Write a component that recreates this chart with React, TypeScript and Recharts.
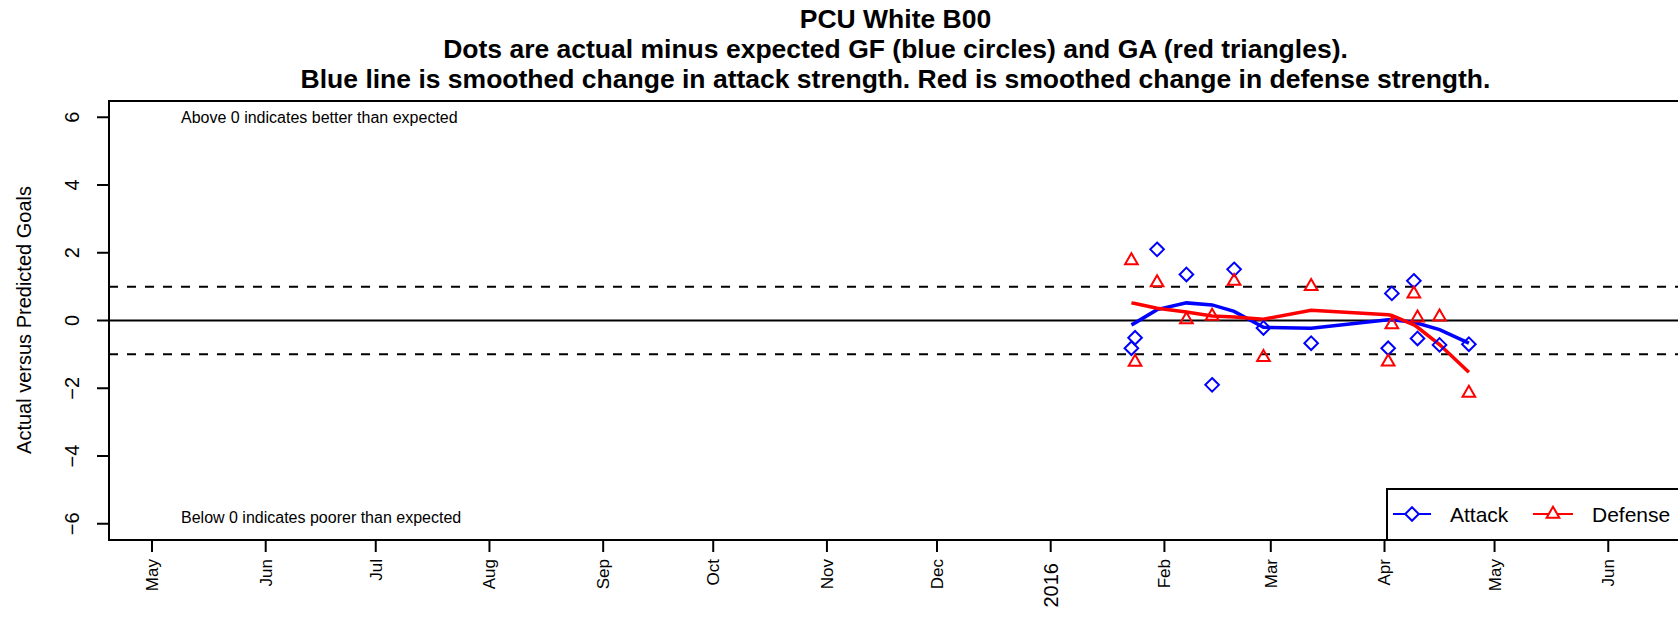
import React from 'react';
import { ComposedChart, XAxis, YAxis, Line, ReferenceLine, ReferenceArea } from 'recharts';

if (typeof document !== 'undefined') document.body.style.margin = '0';

const DAY = 86400000;
const toT = (s: string) => Date.parse(s + 'T00:00:00Z');

// Game dates and values
const gameDates = ['2016-01-23', '2016-01-24', '2016-01-30', '2016-02-07', '2016-02-14', '2016-02-20', '2016-02-28', '2016-03-12', '2016-04-02', '2016-04-03', '2016-04-09', '2016-04-10', '2016-04-16', '2016-04-24'];
const attackDiff = [-0.82, -0.51, 2.1, 1.36, -1.9, 1.51, -0.22, -0.67, -0.82, 0.8, 1.17, -0.53, -0.72, -0.7];
const defenseDiff = [1.77, -1.23, 1.12, 0.03, 0.13, 1.16, -1.09, 1.01, -1.22, -0.12, 0.79, 0.08, 0.11, -2.14];
const attackTrend = [-0.13, -0.07, 0.32, 0.52, 0.46, 0.27, -0.2, -0.23, 0.02, 0.02, -0.05, -0.08, -0.27, -0.67];
const defenseTrend = [0.52, 0.5, 0.36, 0.25, 0.13, 0.1, 0.04, 0.3, 0.17, 0.15, -0.13, -0.2, -0.71, -1.53];

const monthTickDates = ['2015-05-01', '2015-06-01', '2015-07-01', '2015-08-01', '2015-09-01', '2015-10-01', '2015-11-01', '2015-12-01', '2016-01-01', '2016-02-01', '2016-03-01', '2016-04-01', '2016-05-01', '2016-06-01'];
const monthTickLabels = ['May', 'Jun', 'Jul', 'Aug', 'Sep', 'Oct', 'Nov', 'Dec', '2016', 'Feb', 'Mar', 'Apr', 'May', 'Jun'];
const yTicks = [-6, -4, -2, 0, 2, 4, 6];
const yTickLabels = ['\u22126', '\u22124', '\u22122', '0', '2', '4', '6'];

const titleLines = [
  'PCU White B00',
  'Dots are actual minus expected GF (blue circles) and GA (red triangles).',
  'Blue line is smoothed change in attack strength. Red is smoothed change in defense strength.',
];
const yAxisTitle = 'Actual versus Predicted Goals';
const noteAbove = 'Above 0 indicates better than expected';
const noteBelow = 'Below 0 indicates poorer than expected';
const seriesNames = ['Attack', 'Defense'];

const xDomain = [toT('2015-04-19') + 0.28 * DAY, toT('2016-06-21') + 0.1 * DAY];
const yDomain = [-6.48, 6.48];

const rows = gameDates.map((d, i) => ({
  t: toT(d),
  attack: attackDiff[i],
  defense: defenseDiff[i],
  attackTrend: attackTrend[i],
  defenseTrend: defenseTrend[i],
}));
const monthTicks = monthTickDates.map(toT);

const FONT = '"Liberation Sans", Arial, Helvetica, sans-serif';
const BLUE = '#0000ff';
const RED = '#ff0000';

const diamondPath = (cx: number, cy: number, r = 6.8) =>
  `M${cx},${cy - r}L${cx + r},${cy}L${cx},${cy + r}L${cx - r},${cy}Z`;
const trianglePath = (cx: number, cy: number, r = 7.3) =>
  `M${cx},${cy - r}L${cx + 0.866 * r},${cy + r / 2}L${cx - 0.866 * r},${cy + r / 2}Z`;

const Diamond = (p: any) => {
  if (p.cx == null || p.cy == null) return null;
  return <path key={p.key} d={diamondPath(p.cx, p.cy)} fill="none" stroke={BLUE} strokeWidth={2} />;
};
const Triangle = (p: any) => {
  if (p.cx == null || p.cy == null) return null;
  return <path key={p.key} d={trianglePath(p.cx, p.cy)} fill="none" stroke={RED} strokeWidth={2} />;
};

const MonthTick = (p: any) => {
  const idx = monthTicks.indexOf(p.payload.value);
  const label = idx >= 0 ? monthTickLabels[idx] : '';
  const isYear = /^\d{4}$/.test(label);
  const yEnd = isYear ? 563 : 559;
  return (
    <text
      transform={`translate(${p.x},${yEnd}) rotate(-90)`}
      textAnchor="end"
      dy={isYear ? '0.36em' : '0.35em'}
      fontFamily={FONT}
      fontSize={isYear ? 20 : 17}
      fill="#000"
    >
      {label}
    </text>
  );
};

const YTick = (p: any) => {
  const idx = yTicks.indexOf(p.payload.value);
  const label = idx >= 0 ? yTickLabels[idx] : String(p.payload.value);
  return (
    <text
      transform={`translate(79,${p.y}) rotate(-90)`}
      textAnchor="middle"
      fontFamily={FONT}
      fontSize={20}
      fill="#000"
    >
      {label}
    </text>
  );
};

export default function App() {
  return (
    <div style={{ position: 'relative', width: 1678, height: 618, overflow: 'hidden', background: '#fff' }}>
      <ComposedChart width={1690} height={618} data={rows} margin={{ top: 101, right: 8, bottom: 0, left: 0 }}>
        <XAxis
          dataKey="t"
          type="number"
          domain={xDomain}
          ticks={monthTicks}
          interval={0}
          allowDataOverflow
          axisLine={false}
          tickLine={{ stroke: '#000', strokeWidth: 2 }}
          tickSize={12}
          height={78}
          tick={(p: any) => <MonthTick {...p} />}
        />
        <YAxis
          type="number"
          domain={yDomain}
          ticks={yTicks}
          interval={0}
          allowDataOverflow
          axisLine={false}
          tickLine={{ stroke: '#000', strokeWidth: 2 }}
          tickSize={12}
          width={109}
          tick={(p: any) => <YTick {...p} />}
        />
        <ReferenceArea x1={xDomain[0]} x2={xDomain[1]} y1={yDomain[0]} y2={yDomain[1]} fill="none" stroke="#000" strokeWidth={2} />
        <ReferenceLine y={0} stroke="#000" strokeWidth={2} />
        <ReferenceLine y={1} stroke="#000" strokeWidth={2} strokeDasharray="9 9" />
        <ReferenceLine y={-1} stroke="#000" strokeWidth={2} strokeDasharray="9 9" />
        <Line dataKey="attack" stroke="none" isAnimationActive={false} dot={(p: any) => <Diamond {...p} />} activeDot={false} legendType="none" />
        <Line dataKey="defense" stroke="none" isAnimationActive={false} dot={(p: any) => <Triangle {...p} />} activeDot={false} legendType="none" />
        <Line dataKey="attackTrend" type="linear" stroke={BLUE} strokeWidth={3.5} dot={false} activeDot={false} isAnimationActive={false} />
        <Line dataKey="defenseTrend" type="linear" stroke={RED} strokeWidth={3.5} dot={false} activeDot={false} isAnimationActive={false} />
      </ComposedChart>
      <svg width={1678} height={618} style={{ position: 'absolute', left: 0, top: 0, pointerEvents: 'none' }}>
        <g fontFamily={FONT} fontWeight="bold" fontSize={26.5} textAnchor="middle" fill="#000">
          <text x={895.5} y={28}>{titleLines[0]}</text>
          <text x={895.5} y={58}>{titleLines[1]}</text>
          <text x={895.5} y={88}>{titleLines[2]}</text>
        </g>
        <text transform="translate(31,320) rotate(-90)" textAnchor="middle" fontFamily={FONT} fontSize={20} fill="#000">{yAxisTitle}</text>
        <text x={181} y={123} fontFamily={FONT} fontSize={16} fill="#000">{noteAbove}</text>
        <text x={181} y={523} fontFamily={FONT} fontSize={16} fill="#000">{noteBelow}</text>
        <rect x={1387} y={489} width={400} height={51} fill="#fff" stroke="#000" strokeWidth={2} />
        <line x1={1393} x2={1431} y1={514} y2={514} stroke={BLUE} strokeWidth={2} />
        <path d={diamondPath(1412, 514)} fill="#fff" stroke={BLUE} strokeWidth={2} />
        <text x={1450} y={521.5} fontFamily={FONT} fontSize={21} fill="#000">{seriesNames[0]}</text>
        <line x1={1533} x2={1573} y1={514} y2={514} stroke={RED} strokeWidth={2} />
        <path d={trianglePath(1553, 514)} fill="#fff" stroke={RED} strokeWidth={2} />
        <text x={1592} y={521.5} fontFamily={FONT} fontSize={21} fill="#000">{seriesNames[1]}</text>
      </svg>
    </div>
  );
}
